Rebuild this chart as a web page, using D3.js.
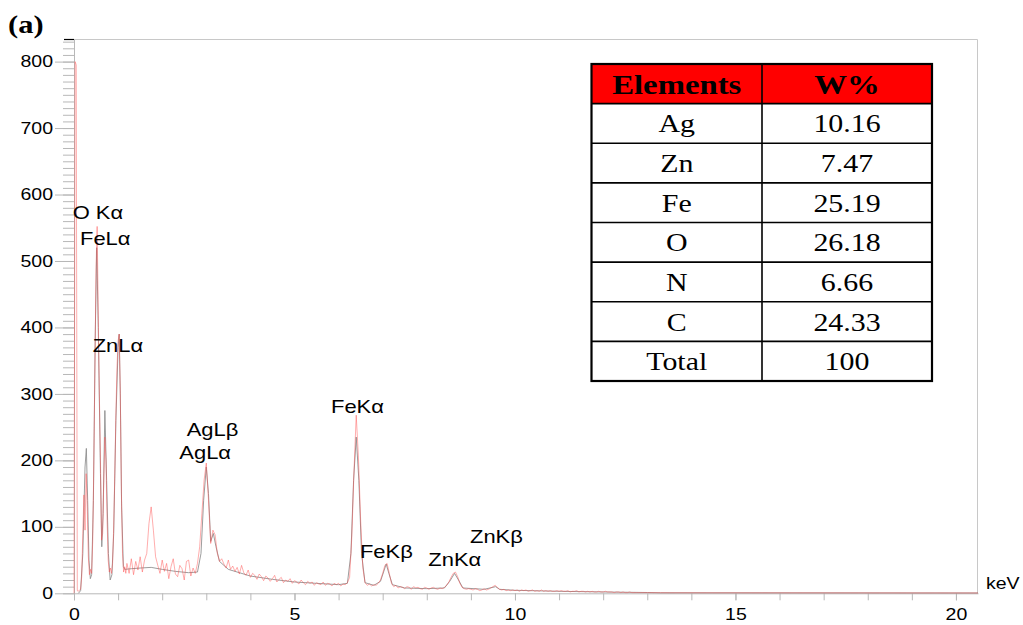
<!DOCTYPE html>
<html>
<head>
<meta charset="utf-8">
<script src="https://cdn.jsdelivr.net/npm/d3@7"></script>
<style>
  html, body { margin: 0; padding: 0; background: #fff; }
  svg { display: block; }
</style>
</head>
<body>
<svg id="chart" width="1023" height="625"></svg>
<script>
// ---- EDS spectrum data -------------------------------------------------
// Measured counts, fine channels (0.025 keV) from 0 keV
const redFineStart = 0, redFineStep = 0.025;
const redFine = [
  0, 800, 795, 4, 3, 5, 6, 25,
  90, 148, 95, 180, 130, 55, 28, 36,
  30, 80, 200, 340, 490, 552, 420, 300,
  200, 80, 90, 170, 235, 200, 110, 50,
  32, 38, 30, 45, 100, 180, 270, 340,
  380, 390, 300, 150, 60, 32, 40, 30
];
// Measured counts, 0.05 keV channels from 1.2 keV
const redStart = 1.2, redStep = 0.05;
const redCounts = [
  45, 30, 52, 28, 48, 35, 55, 32, 50, 60, 105, 130, 95, 55, 42, 30,
  50, 33, 45, 22, 40, 52, 29, 25, 42, 37, 20, 48, 50, 26, 38, 30, 45, 70, 120, 170,
  196, 140, 75, 95, 88, 60, 48, 52, 44, 38, 50, 36, 41, 33, 39, 29, 42, 31, 27, 35,
  24, 30, 27, 21, 29, 25, 19, 26, 23, 18, 22, 27, 17, 21, 24, 16, 20, 18, 22, 15,
  19, 17, 14, 20, 16, 13, 18, 15, 17, 12, 16, 14, 13, 17, 12, 15, 14, 11, 15, 13,
  15, 11, 14, 13, 16, 24, 85, 185, 268, 205, 110, 38, 16, 12, 14, 11, 13, 12, 15, 20,
  30, 42, 45, 30, 15, 10, 12, 8, 10, 9, 7, 10, 9, 6, 10, 8, 9, 7, 6, 9,
  8, 6, 8, 9, 7, 6, 8, 7, 9, 12, 17, 24, 30, 32, 25, 15, 9, 7, 6, 7,
  6, 5, 7, 6, 4, 5, 7, 5, 6, 8, 10, 12, 9, 6, 5, 6, 4, 5, 4, 5,
  4, 5, 3, 5, 4, 5, 3, 4, 5, 3, 4, 3, 5, 3, 4, 3, 4, 3, 3, 4,
  3, 4, 3, 3, 4, 2, 3, 3, 4, 2, 3, 3, 2, 3, 2, 3, 2, 2, 3, 2,
  2, 3, 2, 2, 2, 1, 2, 2, 1, 2, 1, 1, 2, 1, 1, 1, 1, 1, 1, 1,
  1
];
const redTailKeV = [13.5, 20.5];
const redTail = [0.8, 0.5];

// Fitted spectrum (energy in keV, counts)
const grayKeV = [0.10, 0.15, 0.20, 0.25, 0.28, 0.31, 0.34, 0.37, 0.40, 0.44,
  0.48, 0.515, 0.55, 0.60, 0.63, 0.66, 0.70, 0.74, 0.78, 0.82,
  0.86, 0.90, 0.95, 1.00, 1.025, 1.05, 1.08, 1.12, 1.15, 1.30,
  1.50, 1.75, 2.00, 2.30, 2.60, 2.80, 2.88, 2.94, 3.00, 3.05,
  3.10, 3.16, 3.22, 3.30, 3.50, 4.00, 4.50, 5.00, 5.50, 6.00,
  6.20, 6.28, 6.34, 6.40, 6.46, 6.52, 6.60, 6.80, 6.95, 7.02,
  7.08, 7.14, 7.22, 7.50, 8.00, 8.40, 8.52, 8.63, 8.72, 8.82,
  9.30, 9.50, 9.56, 9.65, 10.0, 11.0, 12.0, 13.0, 13.3, 20.5];
const grayCounts = [0, 4, 60, 190, 218, 140, 50, 22, 28, 140,
  380, 520, 400, 180, 70, 120, 275, 170, 60, 20,
  28, 90, 260, 370, 390, 300, 130, 40, 36, 37,
  38, 39, 36, 33, 31, 32, 60, 140, 190, 150,
  78, 90, 70, 48, 36, 26, 21, 17, 15, 13,
  15, 60, 170, 235, 170, 60, 16, 12, 18, 32,
  44, 30, 13, 8, 7, 8, 18, 30, 20, 8,
  6, 9, 10, 6, 4.5, 3, 2, 1.2, 0.8, 0.5];

// Peak annotations (anchor: keV, counts)
const peakNames = ["O K\u03B1", "FeL\u03B1", "ZnL\u03B1", "AgL\u03B2", "AgL\u03B1",
  "FeK\u03B1", "FeK\u03B2", "ZnK\u03B1", "ZnK\u03B2"];
const peakKeV = [-0.03, 0.136, 0.424, 2.556, 2.388, 5.828, 6.485, 8.034, 8.98];
const peakCounts = [563, 524, 363, 237, 202, 272, 53, 41, 76];

// Axis ticks
const xTickValues = [0, 5, 10, 15, 20];
const yTickValues = [0, 100, 200, 300, 400, 500, 600, 700, 800];

// Composition table
const tableHeader = ["Elements", "W%"];
const elements = ["Ag", "Zn", "Fe", "O", "N", "C", "Total"];
const weights = ["10.16", "7.47", "25.19", "26.18", "6.66", "24.33", "100"];

// ---- Layout ------------------------------------------------------------
const svg = d3.select("#chart");
const x = d3.scaleLinear().domain([0, 20.5]).range([74, 978]);
const y = d3.scaleLinear().domain([0, 834]).range([593.3, 39]);
const axisGray = "#b8b8b8";
const sansFont = "'Liberation Sans', Arial, sans-serif";
const serifFont = "'Liberation Serif', 'Times New Roman', serif";

// Widen glyphs horizontally about their anchor x
function stretch(sel, sx) {
  sel.each(function () {
    const t = d3.select(this);
    const ax = +t.attr("x") || 0;
    t.attr("transform", `translate(${ax},0) scale(${sx},1) translate(${-ax},0)`);
  });
}

// Plot frame (top and right)
svg.append("path")
  .attr("d", `M${x(0)},${y(834) + 0.5}H${x(20.5) - 0.5}V${y(0)}`)
  .attr("fill", "none").attr("stroke", "#c8c8c8").attr("stroke-width", 1);

// Y axis: minor ticks every 10, major every 100
const yMinor = svg.append("g").attr("transform", `translate(${x(0)},0)`)
  .call(d3.axisLeft(y).tickValues(d3.range(0, 834, 10)).tickSize(11).tickFormat(""));
yMinor.select(".domain").remove();
const yMajor = svg.append("g").attr("transform", `translate(${x(0)},0)`)
  .call(d3.axisLeft(y).tickValues(yTickValues).tickSize(19).tickPadding(2).tickSizeOuter(0));
[yMinor, yMajor].forEach(g => {
  g.selectAll("line").attr("stroke", axisGray);
  g.selectAll(".domain").attr("stroke", axisGray);
});
yMajor.selectAll("text").attr("font-family", sansFont).attr("font-size", 16).attr("fill", "#000")
  .call(stretch, 1.22);
// dark cap tick at top of the axis
svg.append("line")
  .attr("x1", x(0) - 10).attr("x2", x(0))
  .attr("y1", y(834) + 0.5).attr("y2", y(834) + 0.5)
  .attr("stroke", "#000").attr("stroke-width", 1.2);

// X axis: minor ticks each keV
const gx = svg.append("g").attr("transform", `translate(0,${y(0)})`);
const xMinor = gx.append("g")
  .call(d3.axisBottom(x).tickValues(d3.range(0, 21, 1)).tickSize(7).tickFormat("").tickSizeOuter(0));
xMinor.select(".domain").remove();
const xMajor = gx.append("g")
  .call(d3.axisBottom(x).tickValues(xTickValues).tickSize(7).tickPadding(8).tickSizeOuter(0));
[xMinor, xMajor].forEach(g => {
  g.selectAll("line").attr("stroke", axisGray);
  g.selectAll(".domain").attr("stroke", axisGray);
});
xMajor.selectAll("text").attr("font-family", sansFont).attr("font-size", 16).attr("fill", "#000")
  .call(stretch, 1.22);

svg.append("text").attr("x", 986).attr("y", 589)
  .attr("font-family", sansFont).attr("font-size", 16).text("keV")
  .call(stretch, 1.22);

// ---- Spectrum lines ----------------------------------------------------
const measured = [];
redFine.forEach((c, i) => measured.push([redFineStart + i * redFineStep, c]));
redCounts.forEach((c, i) => measured.push([redStart + i * redStep, c]));
redTail.forEach((c, i) => measured.push([redTailKeV[i], c]));
const fitted = grayKeV.map((k, i) => [k, grayCounts[i]]);

const line = d3.line().x(d => x(d[0])).y(d => y(d[1]));

svg.append("path").datum(fitted)
  .attr("d", line).attr("fill", "none")
  .attr("stroke", "#8c8c8c").attr("stroke-width", 1).attr("stroke-opacity", 0.85);
svg.append("path").datum(measured)
  .attr("d", line).attr("fill", "none")
  .attr("stroke", "#ff4a4a").attr("stroke-width", 0.9).attr("stroke-opacity", 0.5);

// ---- Peak labels -------------------------------------------------------
svg.append("g").selectAll("text").data(peakNames).join("text")
  .attr("x", (d, i) => x(peakKeV[i]))
  .attr("y", (d, i) => y(peakCounts[i]))
  .attr("font-family", sansFont).attr("font-size", 18).attr("fill", "#000")
  .text(d => d)
  .call(stretch, 1.22);

// Panel tag
svg.append("text").attr("x", 8).attr("y", 33)
  .attr("font-family", serifFont).attr("font-weight", "bold").attr("font-size", 25)
  .text("(a)").call(stretch, 1.22);

// ---- Composition table -------------------------------------------------
const tbl = svg.append("g");
const colX = d3.scaleOrdinal().domain([0, 1, 2]).range([591.5, 762, 932]);
const rowY = d3.scaleLinear().domain([0, elements.length + 1]).range([64, 381]);
const tx0 = colX(0), tx1 = colX(1), tx2 = colX(2);
const rowH = rowY(1) - rowY(0);

tbl.append("rect").attr("x", tx0).attr("y", rowY(0))
  .attr("width", tx2 - tx0).attr("height", rowH).attr("fill", "#ff0000");
tbl.append("rect").attr("x", tx0).attr("y", rowY(1))
  .attr("width", tx2 - tx0).attr("height", rowY(elements.length + 1) - rowY(1)).attr("fill", "#fff");

// inner rules
d3.range(1, elements.length + 1).forEach(r => {
  tbl.append("line").attr("x1", tx0).attr("x2", tx2)
    .attr("y1", rowY(r)).attr("y2", rowY(r))
    .attr("stroke", "#000").attr("stroke-width", 1.6);
});
tbl.append("line").attr("x1", tx1).attr("x2", tx1)
  .attr("y1", rowY(0)).attr("y2", rowY(elements.length + 1))
  .attr("stroke", "#000").attr("stroke-width", 1.6);
// outer border
tbl.append("rect").attr("x", tx0).attr("y", rowY(0))
  .attr("width", tx2 - tx0).attr("height", rowY(elements.length + 1) - rowY(0))
  .attr("fill", "none").attr("stroke", "#000").attr("stroke-width", 2.2);

const cx0 = (tx0 + tx1) / 2, cx1 = (tx1 + tx2) / 2;
tbl.selectAll("text.head").data(tableHeader).join("text")
  .attr("class", "head")
  .attr("x", (d, i) => i === 0 ? cx0 : cx1)
  .attr("y", rowY(0) + rowH / 2 + 10)
  .attr("text-anchor", "middle")
  .attr("font-family", serifFont).attr("font-weight", "bold").attr("font-size", 28)
  .text(d => d).call(stretch, 1.17);

tbl.selectAll("text.el").data(elements).join("text")
  .attr("class", "el")
  .attr("x", cx0).attr("y", (d, i) => rowY(i + 1) + rowH / 2 + 9)
  .attr("text-anchor", "middle")
  .attr("font-family", serifFont).attr("font-size", 26)
  .text(d => d).call(stretch, 1.15);

tbl.selectAll("text.wt").data(weights).join("text")
  .attr("class", "wt")
  .attr("x", cx1).attr("y", (d, i) => rowY(i + 1) + rowH / 2 + 9)
  .attr("text-anchor", "middle")
  .attr("font-family", serifFont).attr("font-size", 26)
  .text(d => d).call(stretch, 1.15);
</script>
</body>
</html>
